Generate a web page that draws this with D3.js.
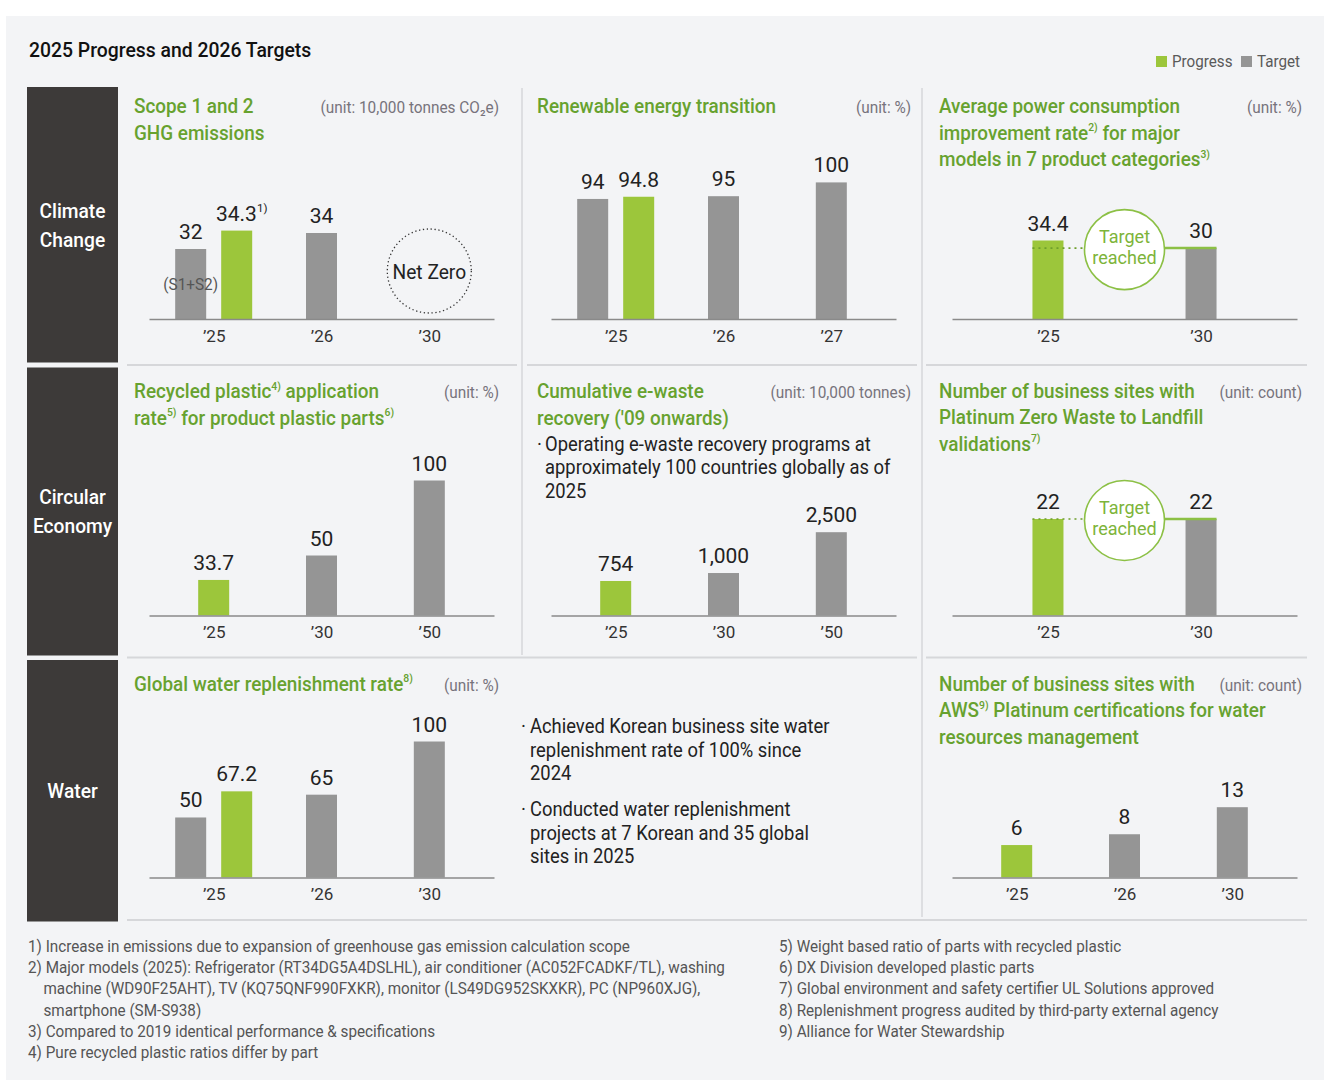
<!DOCTYPE html>
<html><head><meta charset="utf-8">
<script src="https://cdn.jsdelivr.net/npm/d3@7"></script>
<style>body{margin:0;background:#fff}svg{display:block}text{font-family:Roboto,"Noto Sans",sans-serif}</style>
</head><body><svg id="c" width="1340" height="1088"></svg>
<script>
// ---------------- data ----------------
const legendLabels = ["Progress", "Target"];

const ghgCategories = ["’25", "’26", "’30"];
const ghgTarget = [32, 34, null];
const ghgProgress = [34.3, null, null];

const renewCategories = ["’25", "’26", "’27"];
const renewTarget = [94, 95, 100];
const renewProgress = [94.8, null, null];

const powerCategories = ["’25", "’30"];
const powerTarget = [null, 30];
const powerProgress = [34.4, null];

const plasticCategories = ["’25", "’30", "’50"];
const plasticTarget = [null, 50, 100];
const plasticProgress = [33.7, null, null];

const ewasteCategories = ["’25", "’30", "’50"];
const ewasteTarget = [null, 1000, 2500];
const ewasteProgress = [754, null, null];

const zwtlCategories = ["’25", "’30"];
const zwtlTarget = [null, 22];
const zwtlProgress = [22, null];

const waterCategories = ["’25", "’26", "’30"];
const waterTarget = [50, 65, 100];
const waterProgress = [67.2, null, null];

const awsCategories = ["’25", "’26", "’30"];
const awsTarget = [null, 8, 13];
const awsProgress = [6, null, null];

const rowLabels = [["Climate", "Change"], ["Circular", "Economy"], ["Water"]];

const ewasteNote = ["Operating e-waste recovery programs at", "approximately 100 countries globally as of", "2025"];
const waterNotes = [
  ["Achieved Korean business site water", "replenishment rate of 100% since", "2024"],
  ["Conducted water replenishment", "projects at 7 Korean and 35 global", "sites in 2025"]
];

const footnotesLeft = [
  ["1) Increase in emissions due to expansion of greenhouse gas emission calculation scope"],
  ["2) Major models (2025): Refrigerator (RT34DG5A4DSLHL), air conditioner (AC052FCADKF/TL), washing",
   "machine (WD90F25AHT), TV (KQ75QNF990FXKR), monitor (LS49DG952SKXKR), PC (NP960XJG),",
   "smartphone (SM-S938)"],
  ["3) Compared to 2019 identical performance & specifications"],
  ["4) Pure recycled plastic ratios differ by part"]
];
const footnotesRight = [
  ["5) Weight based ratio of parts with recycled plastic"],
  ["6) DX Division developed plastic parts"],
  ["7) Global environment and safety certifier UL Solutions approved"],
  ["8) Replenishment progress audited by third-party external agency"],
  ["9) Alliance for Water Stewardship"]
];

// ---------------- style ----------------
const GREEN = "#9cc63b", GRAY = "#959595", TITLE_GREEN = "#67a22f", CIRCLE_GREEN = "#8cc045";
const DARK = "#222", UNIT = "#77737c", SEP = "#d6d7da", BLOCK = "#3d3a39";
const SX = 0.945;

const svg = d3.select("#c");

function addText(parent, x, y, str, o = {}) {
  const size = o.size || 18;
  const t = parent.append("text")
    .attr("transform", `translate(${x},${y}) scale(${o.sx ?? SX},1)`)
    .attr("font-size", size)
    .attr("fill", o.fill || DARK)
    .attr("font-weight", o.weight || 400)
    .attr("text-anchor", o.anchor || "start");
  const parts = String(str).split(/\^\{([^}]*)\}/);
  let shift = 0;
  parts.forEach((p, i) => {
    if (!p) return;
    const sup = i % 2 === 1;
    const target = sup ? -size * 0.42 : 0;
    const ts = t.append("tspan").attr("dy", target - shift).text(p);
    if (sup) ts.attr("font-size", size * 0.55);
    shift = target;
  });
  return t;
}

// background
svg.append("rect").attr("x", 6).attr("y", 16).attr("width", 1318).attr("height", 1064).attr("fill", "#f3f4f6");

// title & legend
addText(svg, 29, 57, "2025 Progress and 2026 Targets", { size: 21, weight: 500, fill: "#111", sx: 0.923 });
const legend = svg.append("g");
[[1156, 1172, GREEN], [1241, 1257, GRAY]].forEach(([sx, tx, col], i) => {
  legend.append("rect").attr("x", sx).attr("y", 56).attr("width", 11).attr("height", 11).attr("fill", col);
  addText(legend, tx, 67, legendLabels[i], { size: 16, fill: "#5a5a5a", sx: 0.95 });
});

// left row blocks
const blocks = [[87, 362.5, 218, 247], [367.5, 655.5, 504, 533], [660, 921.5, 797.5]];
blocks.forEach((b, i) => {
  svg.append("rect").attr("x", 27).attr("y", b[0]).attr("width", 91).attr("height", b[1] - b[0]).attr("fill", BLOCK);
  rowLabels[i].forEach((l, j) => addText(svg, 72.5, b[2 + j], l, { size: 20, weight: 500, fill: "#fff", anchor: "middle", sx: 0.96 }));
});

// separators
const sep = svg.append("g").attr("stroke", SEP).attr("stroke-width", 2);
[[365, 127, 517], [365, 527, 917], [365, 926, 1307], [657.5, 127, 917], [657.5, 926, 1307], [920, 127, 1307]]
  .forEach(([y, a, b]) => sep.append("line").attr("x1", a).attr("x2", b).attr("y1", y).attr("y2", y));
[[522, 88, 655], [922, 88, 917]].forEach(([x, a, b]) =>
  sep.append("line").attr("x1", x).attr("x2", x).attr("y1", a).attr("y2", b).attr("stroke-width", 1.5));

// ---------------- panels ----------------
const BW = 31, OFF = 23;
function drawPanel(o) {
  const g = svg.append("g");
  const x = d3.scalePoint().domain(o.cats).range([o.x0, o.x0 + 345]).padding(o.cats.length === 2 ? 0.627 : 0.6);
  const y = o.y;
  const fmt = o.fmt || (d => String(d));
  // titles
  o.title.forEach((l, i) => addText(g, o.titleX, o.titleY + i * 26.5, l, { size: 20, weight: 500, fill: TITLE_GREEN, sx: 0.945 }));
  addText(g, o.unitX ?? (o.x0 + 350), o.titleY, o.unit, { size: 16, fill: UNIT, anchor: "end", sx: 0.96 });

  const bars = [];
  o.cats.forEach((c, i) => {
    const t = o.target[i], p = o.progress[i];
    const both = t != null && p != null;
    if (t != null) bars.push({ c, v: t, kind: "t", dx: both ? -OFF : 0 });
    if (p != null) bars.push({ c, v: p, kind: "p", dx: both ? OFF : 0 });
  });
  g.selectAll("rect.bar").data(bars).join("rect").attr("class", "bar")
    .attr("x", d => x(d.c) + d.dx - BW / 2).attr("width", BW)
    .attr("y", d => y(d.v)).attr("height", d => o.base - y(d.v))
    .attr("fill", d => d.kind === "p" ? GREEN : GRAY);
  bars.forEach(d => {
    const sup = d.kind === "p" && o.progressSup ? `^{${o.progressSup}}` : "";
    addText(g, x(d.c) + d.dx + (sup ? 5 : 0), y(d.v) - 10, fmt(d.v) + sup, { size: 21, anchor: "middle", sx: 1.0 });
  });

  const ax = g.append("g").attr("transform", `translate(0,${o.base})`)
    .call(d3.axisBottom(x).tickSize(0).tickSizeOuter(0));
  ax.select(".domain").attr("stroke", "#8a8a8a").attr("stroke-width", 1.5);
  ax.selectAll(".tick text").attr("y", 22.5).attr("dy", 0)
    .attr("font-size", 17).attr("fill", "#333").attr("font-family", "Roboto");

  if (o.reached) {
    const ly = y(o.target[o.target.length - 1]);
    const c0 = x(o.cats[0]), c1 = x(o.cats[1]);
    const cx = (c0 + c1) / 2, r = 40;
    g.append("line").attr("x1", c0 - BW / 2).attr("x2", cx - r).attr("y1", ly).attr("y2", ly)
      .attr("stroke", "#6e9f2c").attr("stroke-width", 1.6).attr("stroke-dasharray", "2,4");
    g.append("line").attr("x1", cx + r).attr("x2", c1 + BW / 2).attr("y1", ly).attr("y2", ly)
      .attr("stroke", CIRCLE_GREEN).attr("stroke-width", 2.5);
    g.append("circle").attr("cx", cx).attr("cy", ly + 1.5).attr("r", r)
      .attr("fill", "#fff").attr("stroke", CIRCLE_GREEN).attr("stroke-width", 1.6);
    addText(g, cx, ly - 5, "Target", { size: 19, fill: "#7db43a", anchor: "middle", sx: 0.95 });
    addText(g, cx, ly + 16, "reached", { size: 19, fill: "#7db43a", anchor: "middle", sx: 0.95 });
  }
  return { g, x, y };
}

// Climate: GHG
const p1 = drawPanel({
  cats: ghgCategories, target: ghgTarget, progress: ghgProgress, progressSup: "1)",
  x0: 149, base: 319, y: d3.scaleLinear().domain([23.25, 35]).range([319, 225]),
  title: ["Scope 1 and 2", "GHG emissions"], titleX: 134, titleY: 113, unit: "(unit: 10,000 tonnes CO₂e)"
});
addText(p1.g, p1.x("’25") - OFF, 290, "(S1+S2)", { size: 16, fill: "#555", anchor: "middle", sx: 0.96 });
p1.g.append("circle").attr("cx", p1.x("’30")).attr("cy", 271).attr("r", 42)
  .attr("fill", "none").attr("stroke", "#333").attr("stroke-width", 1.3).attr("stroke-dasharray", "1.3,2.6");
addText(p1.g, p1.x("’30"), 279, "Net Zero", { size: 20, anchor: "middle", sx: 0.96 });

// Climate: renewable
drawPanel({
  cats: renewCategories, target: renewTarget, progress: renewProgress,
  x0: 551, base: 319, y: d3.scaleLinear().domain([50.5, 100]).range([319, 182.4]),
  title: ["Renewable energy transition"], titleX: 537, titleY: 113, unit: "(unit: %)", unitX: 911
});

// Climate: power consumption
drawPanel({
  cats: powerCategories, target: powerTarget, progress: powerProgress, reached: true,
  x0: 952, base: 319, y: d3.scaleLinear().domain([-11, 34.4]).range([319, 240.5]),
  title: ["Average power consumption", "improvement rate^{2)} for major", "models in 7 product categories^{3)}"],
  titleX: 939, titleY: 113, unit: "(unit: %)"
});

// Circular: plastic
drawPanel({
  cats: plasticCategories, target: plasticTarget, progress: plasticProgress,
  x0: 149, base: 615.5, y: d3.scaleLinear().domain([10, 100]).range([615.5, 480.5]),
  title: ["Recycled plastic^{4)} application", "rate^{5)} for product plastic parts^{6)}"], titleX: 134, titleY: 398, unit: "(unit: %)"
});

// Circular: e-waste
const p5 = drawPanel({
  cats: ewasteCategories, target: ewasteTarget, progress: ewasteProgress, fmt: d3.format(","),
  x0: 551, base: 615.5, y: d3.scalePow().exponent(0.735).domain([0, 2500]).range([615.5, 532.2]),
  title: ["Cumulative e-waste", "recovery ('09 onwards)"], titleX: 537, titleY: 398, unit: "(unit: 10,000 tonnes)", unitX: 911
});
addText(p5.g, 537, 451, "·", { size: 20 });
ewasteNote.forEach((l, i) => addText(p5.g, 545, 451 + i * 23.4, l, { size: 20, sx: 0.92 }));

// Circular: zero waste
drawPanel({
  cats: zwtlCategories, target: zwtlTarget, progress: zwtlProgress, reached: true,
  x0: 952, base: 615.5, y: d3.scaleLinear().domain([0, 22]).range([615.5, 519]),
  title: ["Number of business sites with", "Platinum Zero Waste to Landfill", "validations^{7)}"],
  titleX: 939, titleY: 397.5, unit: "(unit: count)"
});

// Water: replenishment
const p7 = drawPanel({
  cats: waterCategories, target: waterTarget, progress: waterProgress,
  x0: 149, base: 877.5, y: d3.scaleLinear().domain([10.5, 100]).range([877.5, 741.5]),
  title: ["Global water replenishment rate^{8)}"], titleX: 134, titleY: 690.5, unit: "(unit: %)"
});
waterNotes.forEach((lines, k) => {
  const y0 = 733 + k * 83;
  addText(p7.g, 521, y0, "·", { size: 20 });
  lines.forEach((l, i) => addText(p7.g, 530, y0 + i * 23.5, l, { size: 20, sx: 0.92 }));
});

// Water: AWS
drawPanel({
  cats: awsCategories, target: awsTarget, progress: awsProgress,
  x0: 952, base: 877.5, y: d3.scaleLinear().domain([0, 13]).range([877.5, 807.2]),
  title: ["Number of business sites with", "AWS^{9)} Platinum certifications for water", "resources management"],
  titleX: 939, titleY: 690.5, unit: "(unit: count)"
});

// footnotes
function drawNotes(list, x) {
  let yy = 952;
  list.forEach(lines => lines.forEach((l, i) => {
    addText(svg, i ? x + 15.5 : x, yy, l, { size: 16, fill: "#555", sx: 0.953 });
    yy += 21.2;
  }));
}
drawNotes(footnotesLeft, 28);
drawNotes(footnotesRight, 779);
</script></body></html>
